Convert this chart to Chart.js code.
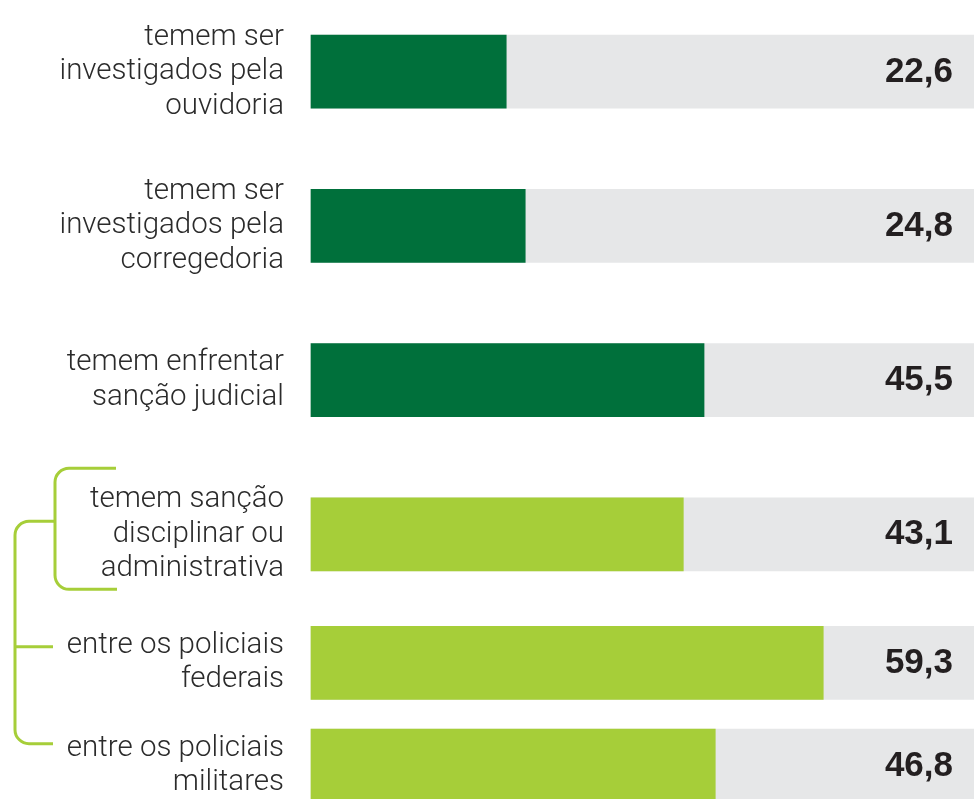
<!DOCTYPE html>
<html lang="pt-br">
<head>
    <meta charset="UTF-8">
    <title>Temem punição</title>
    <script src="https://cdn.jsdelivr.net/npm/chart.js"></script>
    <style>
        html, body { margin: 0; padding: 0; background: #ffffff; }
        #wrap { width: 974px; height: 799px; position: relative; }
    </style>
</head>
<body>
    <div id="wrap"><canvas id="grafico"></canvas></div>

    <script>
        // dados
        const categorias = [
            ['temem ser', 'investigados pela', 'ouvidoria'],
            ['temem ser', 'investigados pela', 'corregedoria'],
            ['temem enfrentar', 'sanção judicial'],
            ['temem sanção', 'disciplinar ou', 'administrativa'],
            ['entre os policiais', 'federais'],
            ['entre os policiais', 'militares']
        ];
        const valores = [22.6, 24.8, 45.5, 43.1, 59.3, 46.8];
        const rotulos = ['22,6', '24,8', '45,5', '43,1', '59,3', '46,8'];

        // layout: posicao de cada linha em "fatias" do eixo (espaco entre as barras)
        const fatias = [0, 6, 12, 18, 23, 27];
        const totalFatias = 28;
        const eixoMax = 76.75;

        const verdeEscuro = '#00703b';
        const verdeClaro = '#a6ce39';
        const cinza = '#e6e7e8';

        // monta as categorias com espacos vazios
        const labels = [];
        const dadosBarra = [];
        const dadosFundo = [];
        const cores = [];
        for (let i = 0; i < totalFatias; i++) {
            const k = fatias.indexOf(i);
            if (k >= 0) {
                labels.push(categorias[k]);
                dadosBarra.push(valores[k]);
                dadosFundo.push(eixoMax);
                cores.push(k < 3 ? verdeEscuro : verdeClaro);
            } else {
                labels.push('');
                dadosBarra.push(null);
                dadosFundo.push(null);
                cores.push(verdeClaro);
            }
        }

        // valores escritos na ponta direita
        const pluginValores = {
            id: 'valores',
            afterDatasetsDraw(chart) {
                const ctx = chart.ctx;
                const y = chart.scales.y;
                ctx.save();
                ctx.font = "bold 35px 'Liberation Sans', Arial, sans-serif";
                ctx.fillStyle = '#231f20';
                ctx.textAlign = 'right';
                ctx.textBaseline = 'alphabetic';
                fatias.forEach((f, k) => {
                    ctx.fillText(rotulos[k], 953, y.getPixelForValue(f) + 10);
                });
                ctx.restore();
            }
        };

        // chaves verdes do grupo "sanção disciplinar"
        const pluginChave = {
            id: 'chave',
            afterDraw(chart) {
                const ctx = chart.ctx;
                const y = chart.scales.y;
                const c3 = y.getPixelForValue(fatias[3]);
                const c4 = y.getPixelForValue(fatias[4]);
                const c5 = y.getPixelForValue(fatias[5]);
                const r = 14;
                ctx.save();
                ctx.strokeStyle = verdeClaro;
                ctx.lineWidth = 3;
                ctx.lineCap = 'butt';

                // chave interna
                const topo = c3 - 66, base = c3 + 55, xi = 55;
                ctx.beginPath();
                ctx.moveTo(116, topo);
                ctx.lineTo(xi + r, topo);
                ctx.arcTo(xi, topo, xi, topo + r, r);
                ctx.lineTo(xi, base - r);
                ctx.arcTo(xi, base, xi + r, base, r);
                ctx.lineTo(117, base);
                ctx.stroke();

                // chave externa
                const yj = c3 - 13, yb = c5 - 22, xe = 15;
                ctx.beginPath();
                ctx.moveTo(xi, yj);
                ctx.lineTo(xe + r, yj);
                ctx.arcTo(xe, yj, xe, yj + r, r);
                ctx.lineTo(xe, yb - r);
                ctx.arcTo(xe, yb, xe + r, yb, r);
                ctx.lineTo(53, yb);
                ctx.stroke();

                ctx.beginPath();
                ctx.moveTo(xe, c4 - 16);
                ctx.lineTo(53, c4 - 16);
                ctx.stroke();
                ctx.restore();
            }
        };

        new Chart(document.getElementById('grafico'), {
            type: 'bar',
            data: {
                labels: labels,
                datasets: [{
                    data: dadosBarra,
                    backgroundColor: cores,
                    barThickness: 73,
                    grouped: false,
                    clip: false,
                    order: 1
                }, {
                    data: dadosFundo,
                    backgroundColor: cinza,
                    barThickness: 73,
                    grouped: false,
                    clip: false,
                    order: 2
                }]
            },
            options: {
                indexAxis: 'y',
                responsive: true,
                maintainAspectRatio: false,
                animation: false,
                layout: { padding: { top: 58.85, bottom: 20.5, left: 0, right: 0 } },
                plugins: {
                    legend: { display: false },
                    tooltip: { enabled: false }
                },
                scales: {
                    x: {
                        display: false,
                        min: 0,
                        max: eixoMax
                    },
                    y: {
                        grid: { display: false, drawTicks: false },
                        border: { display: false },
                        ticks: {
                            autoSkip: false,
                            padding: 27,
                            color: '#2b2b2b',
                            font: { family: 'Roboto', weight: 300, size: 29.5, lineHeight: 1.17 }
                        },
                        afterFit(scale) {
                            scale.width = 311;
                            scale.paddingTop = 0;
                            scale.paddingBottom = 0;
                        }
                    }
                }
            },
            plugins: [pluginValores, pluginChave]
        });
    </script>
</body>
</html>
